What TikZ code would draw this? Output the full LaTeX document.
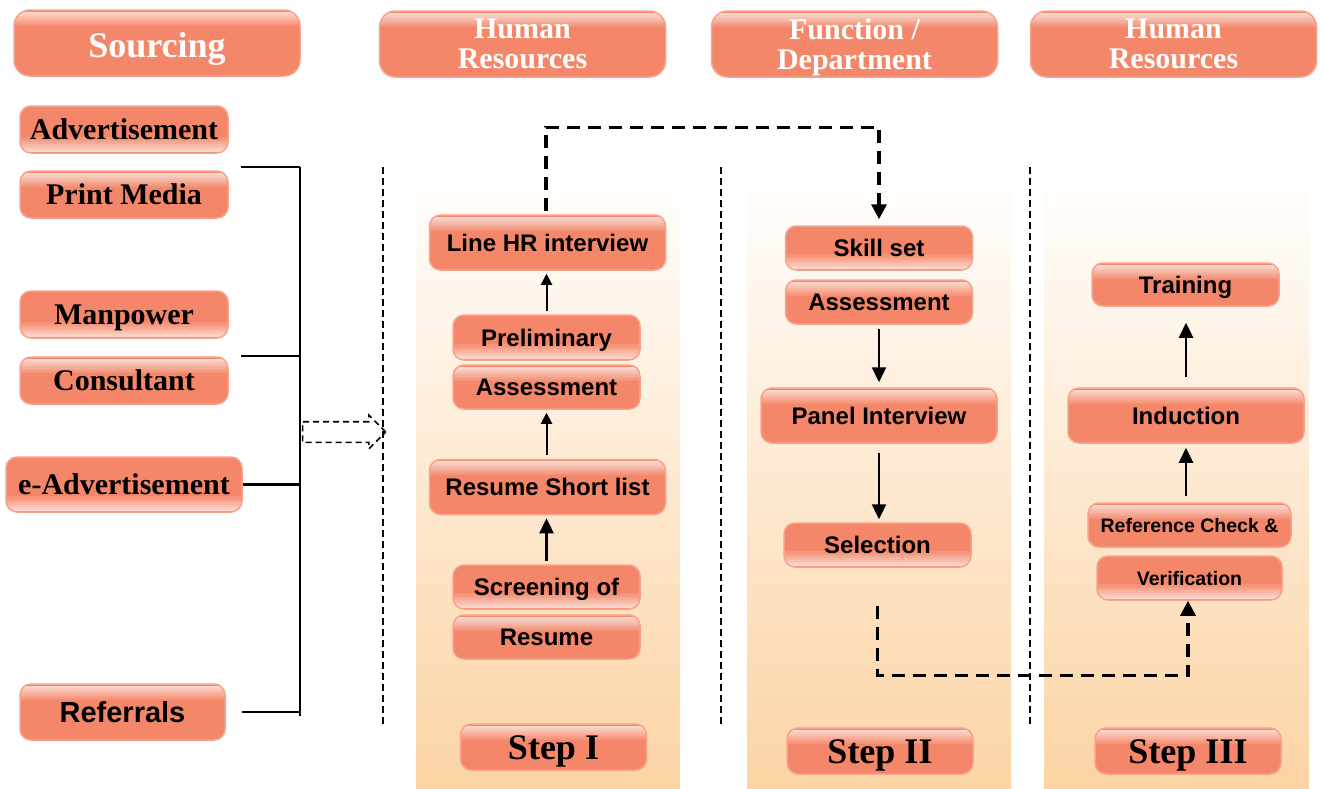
\documentclass[tikz,border=0pt]{standalone}
\usepackage{fontspec}
\setmainfont{Liberation Serif}
\setsansfont{Liberation Sans}
\usetikzlibrary{arrows.meta, positioning, shapes.arrows}

\definecolor{boxfill}{RGB}{244,135,105}
\definecolor{boxedge}{RGB}{246,162,140}
\definecolor{gloss}{RGB}{250,214,204}
\definecolor{colbg}{RGB}{252,212,164}
\definecolor{colmid}{RGB}{253,231,206}

\tikzset{
  pill/.style={rounded corners=11pt, fill=boxfill, draw=boxedge, line width=1.5pt, inner sep=0pt, align=center},
  glosstop/.style={path picture={\foreach \k [evaluate=\k as \p using 100-14*\k] in {0,...,6}
      \fill[sharp corners, gloss!\p!boxfill] ([yshift={-1.5-2*\k}]path picture bounding box.north west)
        rectangle ([yshift={-3.7-2*\k}]path picture bounding box.north east);}},
  glossbot/.style={path picture={\foreach \k [evaluate=\k as \p using 100-14*\k] in {0,...,6}
      \fill[sharp corners, gloss!\p!boxfill] ([yshift={1.5+2*\k}]path picture bounding box.south west)
        rectangle ([yshift={3.7+2*\k}]path picture bounding box.south east);}},
  head/.style={pill, glosstop, rounded corners=16pt, minimum width=286pt, minimum height=66pt,
      text=white, font=\bfseries\fontsize{30}{30}\selectfont},
  src/.style={pill, minimum width=208pt, minimum height=47pt, text height=22pt, text depth=2pt,
      font=\bfseries\fontsize{30}{30}\selectfont},
  task/.style={pill, minimum width=187pt, minimum height=44pt, text height=19pt, text depth=2pt,
      font=\sffamily\bfseries\fontsize{24}{24}\selectfont},
  small/.style={text height=16pt, text depth=2pt, font=\sffamily\bfseries\fontsize{19.5}{20}\selectfont},
  wide/.style={minimum width=236pt, minimum height=55pt},
  steplab/.style={pill, glosstop, minimum width=186pt, minimum height=46pt, text height=26pt, text depth=2pt,
      font=\bfseries\fontsize{36}{36}\selectfont},
  divider/.style={line width=1.5pt, dash pattern=on 7pt off 4pt},
  bracket/.style={line width=2.4pt},
  flowline/.style={line width=3.4pt, dash pattern=on 13pt off 8pt, -{Triangle[length=15pt,width=15pt]}},
  up/.style={line width=2pt, -{Triangle[length=11pt,width=11pt]}},
  bigup/.style={line width=2.4pt, -{Triangle[length=15pt,width=14pt]}},
}

\begin{document}
\begin{tikzpicture}[x=1pt, y=-1pt]
  \useasboundingbox (0,0) rectangle (1325,788);

  % step columns
  \foreach \xl/\xr in {416/680, 747/1011, 1044/1309}
    \shade[top color=white, middle color=colmid, bottom color=colbg] (\xl,165) rectangle (\xr,788);
  \foreach \xd in {383, 721, 1030}
    \draw[divider] (\xd,167) -- (\xd,727);

  % headers
  \node[head, text height=28pt, text depth=0pt, font=\bfseries\fontsize{36}{36}\selectfont] (hsrc) at (157,43) {Sourcing};
  \node[head] (hhr1) at (522.5,44) {Human\\Resources};
  \node[head] (hfun) at (854.5,44) {Function /\\De\smash{p}artment};
  \node[head] (hhr2) at (1173.5,44) {Human\\Resources};

  % sourcing channels
  \node[src, glossbot] (adv) at (124,129.5) {Advertisement};
  \node[src, glosstop] (pm) at (124,194.5) {Print Media};
  \node[src, glossbot] (mp) at (124,314.5) {Manpower};
  \node[src, glosstop] (con) at (124,380.5) {Consultant};
  \node[src, glossbot, minimum width=236pt, minimum height=55pt] (ead) at (124,484.5) {e-Advertisement};
  \node[src, glosstop, minimum width=205pt, minimum height=56pt, text height=23pt,
        font=\sffamily\bfseries\fontsize{29}{29}\selectfont] (refl) at (122.5,712) {Referrals};

  \coordinate (bt) at (300,167);
  \coordinate (bb) at (300,716);
  \coordinate (pmtap) at (241,167);
  \coordinate (mptap) at (241,356);
  \draw[bracket] (bt) -- (bb);
  \draw[bracket] (pmtap) -- (bt);
  \draw[bracket] (mptap) -- (mptap -| bt);
  \draw[bracket] (ead.east) -- (ead.east -| bt);
  \draw[bracket] ([xshift=16pt]refl.east) -- (refl.east -| bt);

  \node[single arrow, draw, line width=1.6pt, dash pattern=on 6pt off 4pt, inner xsep=0pt, inner ysep=9.5pt,
        minimum height=83pt, single arrow head extend=6.5pt] (flow) at (339,432) {};

  % step I
  \node[task, wide, glosstop] (lhr) at (547.5,242.5) {Line HR interview};
  \node[task, glossbot, minimum height=45pt] (pre) at (546.5,337.5) {Preliminary};
  \node[task, glosstop] (ass1) at (546.5,387) {Assessment};
  \node[task, wide, glosstop] (rsl) at (547.5,487) {Resume Short list};
  \node[task, glossbot] (scr) at (546.5,587) {Screening of};
  \node[task, glosstop] (res) at (546.5,637) {Resume};
  \node[steplab] (st1) at (553.5,747) {Step I};

  \draw[bigup, shorten <=3pt, shorten >=3pt] (scr.north) -- (scr.north |- rsl.south);
  \draw[up, shorten <=4pt, shorten >=3pt] (rsl.north -| ass1.south) -- (ass1.south);
  \draw[up, shorten <=3pt, shorten >=3pt] (pre.north) -- (pre.north |- lhr.south);

  % step II
  \node[task, glossbot] (sks) at (879,248) {Skill set};
  \node[task, glosstop] (ass2) at (879,302) {Assessment};
  \node[task, wide, glosstop] (pnl) at (879,415.5) {Panel Interview};
  \node[task, glossbot] (sel) at (877.5,545) {Selection};
  \node[steplab] (st2) at (880,751) {Step II};

  \draw[bigup, shorten <=4pt, shorten >=5pt] (ass2.south) -- (pnl.north);
  \draw[bigup, shorten <=9pt, shorten >=3pt] (pnl.south) -- (pnl.south |- sel.north);

  % step III
  \node[task, glosstop, minimum height=43pt] (trn) at (1185.5,284.5) {Training};
  \node[task, wide, glosstop] (ind) at (1186,415.5) {Induction};
  \node[task, small, glosstop, minimum width=203pt] (rfc) at (1189.5,525) {Reference Check \&};
  \node[task, small, glossbot, minimum width=185pt] (ver) at (1189.5,578) {Verification};
  \node[steplab] (st3) at (1188,751) {Step III};

  \draw[bigup, shorten <=10pt, shorten >=16pt] (ind.north) -- (ind.north |- trn.south);
  \draw[bigup, shorten <=6pt, shorten >=4pt] (rfc.north -| ind.south) -- (ind.south);

  % hand-over between functions
  \draw[flowline, shorten >=6pt] ([xshift=-1.5pt,yshift=3pt]lhr.north) -- ++(0,-84) -| (sks.north);
  \draw[flowline] ([yshift=-38pt]sel.south) -- ++(0,70) -| ([xshift=-1.5pt]ver.south);
\end{tikzpicture}
\end{document}
